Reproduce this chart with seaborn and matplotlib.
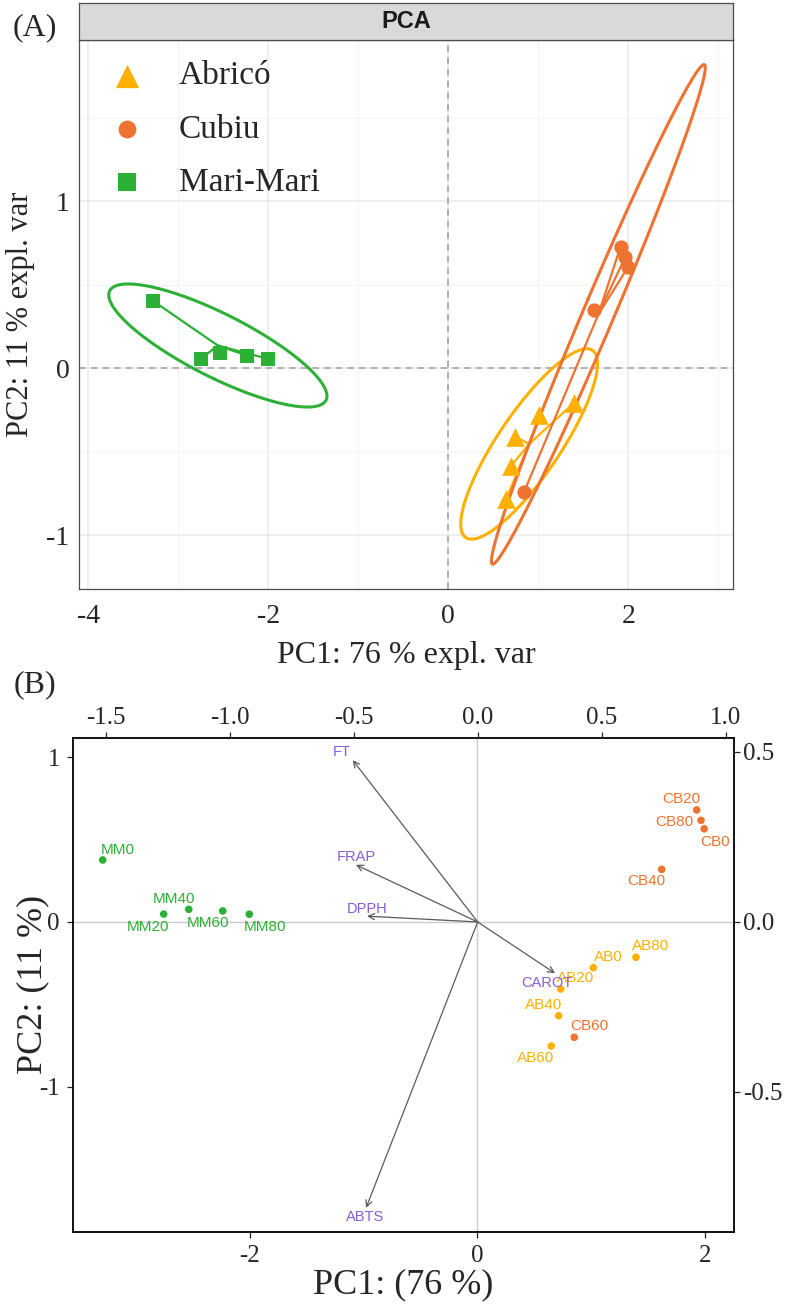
import numpy as np
import pandas as pd
import seaborn as sns
import matplotlib.pyplot as plt

# amostras e grupos
amostras = ["AB0", "AB20", "AB40", "AB60", "AB80",
            "CB0", "CB20", "CB40", "CB60", "CB80",
            "MM0", "MM20", "MM40", "MM60", "MM80"]
grupos = ["Abricó"] * 5 + ["Cubiu"] * 5 + ["Mari-Mari"] * 5

# (A) escores do PCA (plotIndiv)
pc1_a = [1.014, 0.744, 0.700, 0.644, 1.392,
         2.000, 1.914, 1.614, 0.844, 1.967,
         -3.281, -2.748, -2.530, -2.233, -1.997]
pc2_a = [-0.280, -0.410, -0.584, -0.784, -0.210,
         0.609, 0.729, 0.350, -0.740, 0.669,
         0.405, 0.056, 0.090, 0.076, 0.056]

# (B) biplot: escores
pc1_b = [1.016, 0.730, 0.712, 0.647, 1.390,
         1.989, 1.923, 1.616, 0.849, 1.961,
         -3.288, -2.753, -2.533, -2.235, -2.002]
pc2_b = [-0.277, -0.406, -0.568, -0.752, -0.214,
         0.565, 0.679, 0.319, -0.699, 0.616,
         0.376, 0.048, 0.077, 0.067, 0.047]

# (B) biplot: cargas das variaveis
variaveis = ["FT", "FRAP", "DPPH", "CAROT", "ABTS"]
load_pc1 = [-0.504, -0.491, -0.446, 0.312, -0.450]
load_pc2 = [0.476, 0.168, 0.017, -0.151, -0.841]

CORES = {"Abricó": "#FFB000", "Cubiu": "#EE7230", "Mari-Mari": "#2DB036"}
MARCAS = {"Abricó": ("^", 180), "Cubiu": ("o", 105), "Mari-Mari": ("s", 115)}
ROXO = "#8A5CD8"

# deslocamento dos rotulos (pt)
OFF_AMOSTRA = {"AB0": (10.8, 8), "AB20": (10.5, 8), "AB40": (-11, 8),
               "AB60": (-11, -8.4), "AB80": (10.8, 8),
               "CB0": (8, -9.4), "CB20": (-10.8, 7.7), "CB40": (-10.8, -8.4),
               "CB60": (10.8, 8), "CB80": (-19.4, -1.2),
               "MM0": (10.5, 7.2), "MM20": (-11, -9), "MM40": (-10.5, 7.4),
               "MM60": (-10.8, -8.4), "MM80": (11.3, -8.9)}
OFF_VAR = {"FT": (-7.9, 5.5), "FRAP": (0, 6), "DPPH": (0, 5.3),
           "CAROT": (-6, -6.8), "ABTS": (-1, -6.5)}


def elipse(x, y, nivel=0.95, n=300):
    # elipse de confianca (normal bivariada), como no mixOmics
    x, y = np.asarray(x), np.asarray(y)
    val, vec = np.linalg.eigh(np.cov(x, y))
    r = np.sqrt(-2 * np.log(1 - nivel))
    t = np.linspace(0, 2 * np.pi, n)
    circ = np.vstack([np.cos(t), np.sin(t)]) * np.sqrt(val)[:, None] * r
    pts = vec @ circ
    return x.mean() + pts[0], y.mean() + pts[1]


sns.set_style("white")
plt.rcParams["font.family"] = ["Liberation Serif", "DejaVu Serif"]
plt.rcParams["axes.unicode_minus"] = False

df_a = pd.DataFrame({"amostra": amostras, "grupo": grupos, "pc1": pc1_a, "pc2": pc2_a})
df_b = pd.DataFrame({"amostra": amostras, "grupo": grupos, "pc1": pc1_b, "pc2": pc2_b})
df_v = pd.DataFrame({"var": variaveis, "pc1": load_pc1, "pc2": load_pc2})

W, H = 788, 1305
fig = plt.figure(figsize=(W / 100, H / 100), dpi=100)

# ---------------- (A) ----------------
axA = fig.add_axes([79 / W, 1 - 589 / H, (733 - 79) / W, (589 - 40) / H])
strip = fig.add_axes([79 / W, 1 - 40 / H, (733 - 79) / W, 37 / H])
strip.set_facecolor("#D9D9D9")
strip.set_xticks([]); strip.set_yticks([])
for s in strip.spines.values():
    s.set_color("#4D4D4D"); s.set_linewidth(0.9)
strip.text(0.5, 0.5, "PCA", ha="center", va="center", fontsize=17,
           fontweight="bold", family="Liberation Sans", color="#1A1A1A")

axA.set_axisbelow(True)
axA.set_xticks([-4, -2, 0, 2]); axA.set_xticks([-3, -1, 1, 3], minor=True)
axA.set_yticks([-1, 0, 1]); axA.set_yticks([-0.5, 0.5, 1.5], minor=True)
axA.grid(True, which="major", color="#EBEBEB", lw=1.1)
axA.grid(True, which="minor", color="#F3F3F3", lw=0.7)
axA.axhline(0, color="#A6A6A6", lw=1.2, ls=(0, (4, 3)), zorder=1)
axA.axvline(0, color="#A6A6A6", lw=1.2, ls=(0, (4, 3)), zorder=1)

for g, sub in df_a.groupby("grupo"):
    cx, cy = sub["pc1"].mean(), sub["pc2"].mean()
    for x, y in zip(sub["pc1"], sub["pc2"]):
        axA.plot([cx, x], [cy, y], color=CORES[g], lw=1.6, zorder=2)
    ex, ey = elipse(sub["pc1"], sub["pc2"])
    axA.plot(ex, ey, color=CORES[g], lw=2.2, zorder=2)

for g in ["Abricó", "Cubiu", "Mari-Mari"]:
    m, s = MARCAS[g]
    sns.scatterplot(data=df_a[df_a["grupo"] == g], x="pc1", y="pc2", ax=axA,
                    color=CORES[g], marker=m, s=s, linewidth=0, label=g, zorder=3)

axA.set_xlim(-4.1, 3.163)
axA.set_ylim(-1.323, 1.968)
for s in axA.spines.values():
    s.set_color("#4D4D4D"); s.set_linewidth(0.9)
axA.tick_params(which="major", length=3, width=0.8, color="#333333",
                labelsize=20, pad=4)
axA.tick_params(axis="x", which="major", pad=8)
axA.tick_params(which="minor", length=0)
axA.set_xlabel("PC1: 76 % expl. var", fontsize=23)
axA.set_ylabel("PC2: 11 % expl. var", fontsize=22)
axA.xaxis.set_label_coords(0.5, -0.095)
axA.yaxis.set_label_coords(-0.068, 0.5)
axA.legend(loc="upper left", bbox_to_anchor=(0.043, 0.962), frameon=False,
           fontsize=24, markerscale=1.25, handlelength=1.2, handletextpad=0.95,
           labelspacing=0.68, borderpad=0, borderaxespad=0)

fig.text(35 / W, 1 - 28 / H, "(A)", ha="center", va="center", fontsize=23)
fig.text(35 / W, 1 - 685 / H, "(B)", ha="center", va="center", fontsize=23)

# ---------------- (B) ----------------
rectB = [72.5 / W, 1 - 1232 / H, (734.3 - 72.5) / W, (1232 - 737.7) / H]
axB = fig.add_axes(rectB)
axB.axhline(0, color="#CCCCCC", lw=1, zorder=0)
axB.axvline(0, color="#CCCCCC", lw=1, zorder=0)
sns.scatterplot(data=df_b, x="pc1", y="pc2", hue="grupo", palette=CORES,
                s=30, linewidth=0, legend=False, ax=axB, zorder=3)
for _, r in df_b.iterrows():
    axB.annotate(r["amostra"], (r["pc1"], r["pc2"]), xytext=OFF_AMOSTRA[r["amostra"]],
                 textcoords="offset points", ha="center", va="center",
                 fontsize=11, family="Liberation Sans", color=CORES[r["grupo"]])
axB.set_xlim(-3.553, 2.253)
axB.set_ylim(-1.879, 1.117)
axB.set_xticks([-2, 0, 2])
axB.set_yticks([-1, 0, 1])
axB.set_xticklabels(["-2", "0", "2"])
axB.set_yticklabels(["-1", "0", "1"])
axB.tick_params(length=4, width=0.9, labelsize=18, pad=5, left=True, bottom=True)
for s in axB.spines.values():
    s.set_color("black"); s.set_linewidth(1.3)
axB.set_xlabel("PC1: (76 %)", fontsize=26)
axB.set_ylabel("PC2: (11 %)", fontsize=26)
axB.xaxis.set_label_coords(0.5, -0.073)
axB.yaxis.set_label_coords(-0.035, 0.5)

axV = fig.add_axes(rectB, frameon=False)
axV.patch.set_alpha(0)
axV.set_xlim(-1.634, 1.035)
axV.set_ylim(-0.912, 0.542)
axV.xaxis.tick_top(); axV.yaxis.tick_right()
axV.set_xticks([-1.5, -1.0, -0.5, 0.0, 0.5, 1.0])
axV.set_xticklabels([f"{v:.1f}" for v in [-1.5, -1.0, -0.5, 0.0, 0.5, 1.0]])
axV.set_yticks([-0.5, 0.0, 0.5])
axV.set_yticklabels([f"{v:.1f}" for v in [-0.5, 0.0, 0.5]])
axV.tick_params(length=4, width=0.9, labelsize=18, pad=2, top=True, right=True)
for _, r in df_v.iterrows():
    axV.annotate("", xy=(r["pc1"], r["pc2"]), xytext=(0, 0),
                 arrowprops=dict(arrowstyle="->", color="#5A5A5A", lw=0.9,
                                 shrinkA=0, shrinkB=0, mutation_scale=11))
    axV.annotate(r["var"], (r["pc1"], r["pc2"]), xytext=OFF_VAR[r["var"]],
                 textcoords="offset points", ha="center", va="center",
                 fontsize=10.5, family="Liberation Sans", color=ROXO)

fig.savefig("out.png", dpi=100)
